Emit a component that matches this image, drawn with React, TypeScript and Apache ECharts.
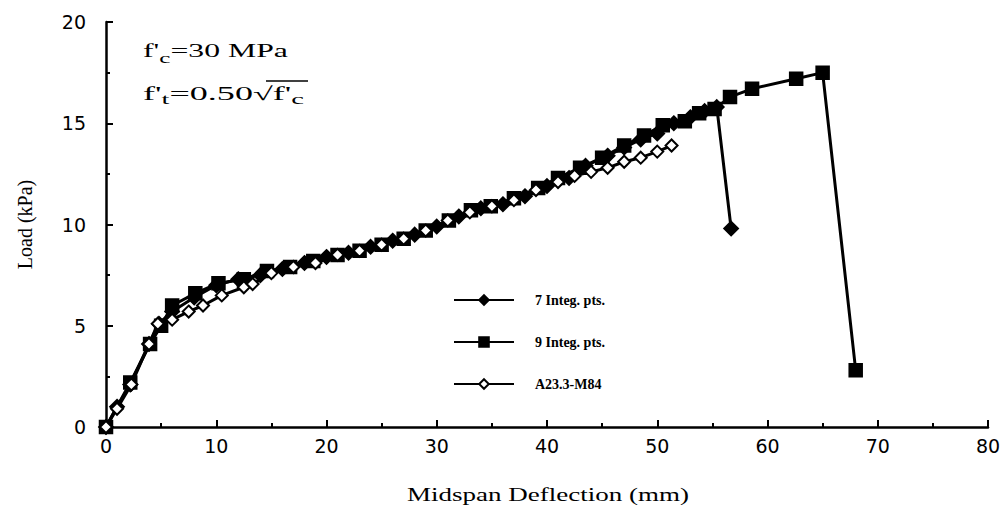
import { useEffect, useRef } from "react";
import * as echarts from "echarts";

// 7 integration points (filled diamonds)
const sevenX = [0, 1.0, 2.2, 3.9, 4.8, 6.0, 8.0, 10.0, 12.0, 14.0, 16.0, 18.0, 20.0, 22.0, 24.0, 26.0, 28.0, 30.0, 32.0, 34.0, 36.0, 38.0, 40.0, 42.0, 43.5, 45.5, 47.0, 48.5, 50.0, 51.5, 53.0, 54.3, 55.4, 56.7];
const sevenY = [0, 1.0, 2.1, 4.1, 5.1, 5.7, 6.4, 7.0, 7.3, 7.5, 7.8, 8.1, 8.4, 8.6, 8.9, 9.2, 9.5, 9.9, 10.4, 10.8, 11.0, 11.4, 11.9, 12.3, 12.9, 13.4, 13.8, 14.2, 14.5, 15.0, 15.3, 15.6, 15.8, 9.8];

// 9 integration points (filled squares)
const nineX = [0, 2.2, 4.0, 5.0, 6.0, 8.1, 10.2, 12.5, 14.6, 16.7, 18.8, 21.0, 23.0, 25.0, 27.0, 29.0, 31.1, 33.1, 34.9, 37.0, 39.2, 41.0, 43.0, 45.0, 47.0, 48.8, 50.5, 52.5, 53.8, 55.2, 56.6, 58.6, 62.6, 65.0, 68.0];
const nineY = [0, 2.2, 4.1, 5.0, 6.0, 6.6, 7.1, 7.3, 7.7, 7.9, 8.2, 8.5, 8.7, 9.0, 9.3, 9.7, 10.2, 10.7, 10.9, 11.3, 11.8, 12.3, 12.8, 13.3, 13.9, 14.4, 14.9, 15.1, 15.5, 15.7, 16.3, 16.7, 17.2, 17.5, 2.8];

// A23.3-M84 (open diamonds)
const codeX = [0, 1.0, 2.3, 3.9, 4.7, 6.0, 7.5, 8.8, 10.5, 12.5, 13.3, 15.0, 17.0, 19.0, 21.0, 23.0, 25.0, 27.0, 29.0, 31.0, 33.0, 35.0, 37.0, 39.0, 41.0, 42.5, 44.0, 45.5, 47.0, 48.5, 50.0, 51.3];
const codeY = [0, 0.9, 2.1, 4.1, 5.1, 5.3, 5.7, 6.0, 6.5, 6.9, 7.06, 7.6, 7.9, 8.1, 8.5, 8.7, 9.0, 9.3, 9.7, 10.2, 10.6, 10.9, 11.2, 11.7, 12.1, 12.4, 12.6, 12.8, 13.1, 13.3, 13.6, 13.9];

const seriesNames = ["7 Integ. pts.", "9 Integ. pts.", "A23.3-M84"];
const xTitle = "Midspan Deflection (mm)";
const yTitle = "Load (kPa)";

const pairs = (xs: number[], ys: number[]) => xs.map((x, i) => [x, ys[i]]);

export default function App() {
  const ref = useRef<HTMLDivElement>(null);
  useEffect(() => {
    const chart = echarts.init(ref.current!, null, { renderer: "svg" });
    const axisCommon = {
      type: "value" as const,
      axisLine: { show: true, lineStyle: { color: "#000", width: 2.5 } },
      axisTick: { show: true, inside: true, length: 7, lineStyle: { color: "#000", width: 2 } },
      minorTick: { show: true, splitNumber: 2, length: 4, lineStyle: { color: "#000", width: 2 } },
      splitLine: { show: false },
    };
    const lineSeries = (name: string, data: number[][], symbol: string, size: number) => ({
      name,
      type: "line",
      data,
      symbol,
      symbolSize: size,
      lineStyle: { color: "#000", width: 3 },
      itemStyle: { color: "#000", borderColor: "#000", borderWidth: 2.5 },
      z: 3,
    });
    const rich = {
      m: { fontFamily: "Liberation Serif", fontSize: 19, fill: "#000", lineHeight: 28, verticalAlign: "middle" },
      s: { fontFamily: "Liberation Serif", fontSize: 15, fill: "#000", lineHeight: 28, verticalAlign: "bottom" },
    };
    chart.setOption({
      animation: false,
      backgroundColor: "#fff",
      grid: { left: 106, right: 20, top: 22, bottom: 83, containLabel: false },
      xAxis: {
        ...axisCommon,
        min: 0,
        max: 80,
        interval: 10,
        axisLabel: { color: "#000", fontSize: 19, fontFamily: "DejaVu Sans", margin: 9 },
      },
      yAxis: {
        ...axisCommon,
        min: 0,
        max: 20,
        interval: 5,
        name: yTitle,
        nameLocation: "middle",
        nameGap: 71,
        nameTextStyle: { fontFamily: "Liberation Serif", fontSize: 20, color: "#000" },
        axisLabel: { color: "#000", fontSize: 19, fontFamily: "DejaVu Sans", margin: 20 },
      },
      legend: {
        data: seriesNames,
        orient: "vertical",
        left: 448,
        top: 288,
        itemWidth: 60,
        itemHeight: 12,
        itemGap: 28,
        textStyle: {
          fontFamily: "Liberation Serif",
          fontWeight: "bold",
          fontSize: 14,
          color: "#000",
          padding: [0, 0, 0, 16],
        },
      },
      series: [
        lineSeries(seriesNames[0], pairs(sevenX, sevenY), "diamond", 13),
        lineSeries(seriesNames[1], pairs(nineX, nineY), "rect", 12),
        lineSeries(seriesNames[2], pairs(codeX, codeY), "emptyDiamond", 12),
      ],
      graphic: [
        {
          type: "text",
          x: 143,
          y: 51,
          scaleX: 1.67,
          style: {
            text: "{m|f'}{s|c}{m|=30 MPa}",
            fill: "#000",
            verticalAlign: "middle",
            rich,
          },
        },
        {
          type: "text",
          x: 143,
          y: 93,
          scaleX: 1.9,
          style: {
            text: "{m|f'}{s|t}{m|=0.50√f'}{s|c}",
            fill: "#000",
            verticalAlign: "middle",
            rich,
          },
        },
        {
          type: "line",
          shape: { x1: 266, y1: 81, x2: 308, y2: 81 },
          style: { stroke: "#000", lineWidth: 1.5 },
        },
        {
          type: "text",
          x: 548,
          y: 495,
          scaleX: 1.5,
          style: {
            text: xTitle,
            fill: "#000",
            fontFamily: "Liberation Serif",
            fontSize: 18,
            align: "center",
            verticalAlign: "middle",
          },
        },
      ],
    });
    return () => chart.dispose();
  }, []);
  return <div ref={ref} style={{ position: "absolute", left: 0, top: 0, width: 1008, height: 510 }} />;
}
